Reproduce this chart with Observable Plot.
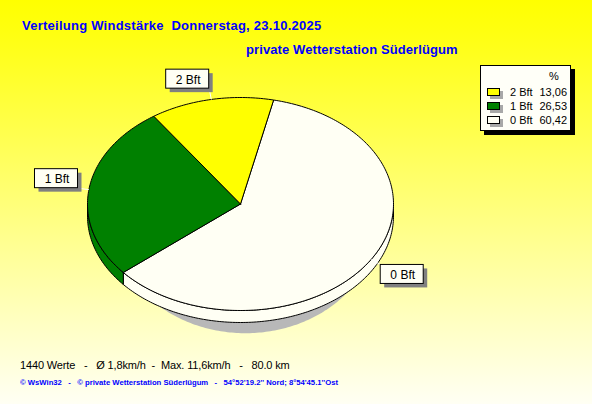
<!DOCTYPE html>
<html>
<head>
<meta charset="utf-8">
<script src="https://cdn.jsdelivr.net/npm/d3@7"></script>
<script src="https://cdn.jsdelivr.net/npm/@observablehq/plot@0.6"></script>
<style>
  html, body { margin: 0; padding: 0; overflow: hidden; }
  #wrap { position: relative; width: 592px; height: 404px;
    background: linear-gradient(to bottom, #ffff00 0%, #ffff10 8%, #fffff4 100%);
    font-family: "Liberation Sans", Arial, sans-serif; }
  #chart { position: absolute; left: 0; top: 0; }
  .abs { position: absolute; white-space: pre; line-height: 1; }
  .title { font-weight: bold; font-size: 13px; color: #0000ff; }
  #legend { position: absolute; left: 480px; top: 65px; width: 89px; height: 64px;
    background: #fffff8; border: 1px solid #000; box-shadow: 4px 4px 0 #000; }
  #legend .abs { font-size: 11px; color: #000; }
  .sw { position: absolute; width: 11px; height: 6px; border: 1px solid #000; box-shadow: 3px 3px 0 #a8a8a8; }
</style>
</head>
<body>
<div id="wrap">
  <div id="chart"></div>
  <div id="title" class="abs title" style="left:22px;top:19px;letter-spacing:0.25px"></div>
  <div id="subtitle" class="abs title" style="left:246px;top:43px;letter-spacing:0.1px"></div>
  <div id="legend"></div>
  <div id="summary" class="abs" style="left:20px;top:360px;font-size:11px;color:#000;letter-spacing:-0.14px"></div>
  <div id="credit" class="abs" style="left:20px;top:379px;font-size:8px;font-weight:bold;color:#0000ff;transform-origin:0 0"></div>
</div>
<script>
// ---- data ----
const categories = ["0 Bft", "1 Bft", "2 Bft"];
const percents = [60.42, 26.53, 13.06];
const titleText = "Verteilung Windstärke  Donnerstag, 23.10.2025";
const subtitleText = "private Wetterstation Süderlügum";
const summaryText = "1440 Werte   -   Ø 1,8km/h  -  Max. 11,6km/h   -   80.0 km";
const creditText = "© WsWin32   -   © private Wetterstation Süderlügum   -   54°52'19.2'' Nord; 8°54'45.1''Ost";
const legendHeader = "%";

// ---- styles ----
const sliceColors = {"0 Bft": "#fffff4", "1 Bft": "#008000", "2 Bft": "#ffff00"};

// ---- geometry ----
const cx = 240, cy = 203.5, rx = 153, ry = 106.5, depth = 12;
const startDeg = 12.5;
const toDX = px => (px - cx) / rx;
const toDY = py => -(py - cy) / ry;
const step = Math.PI / 180;

const arcs = d3.pie().sort(null)
  .startAngle(startDeg * step)
  .endAngle(startDeg * step + 2 * Math.PI)(percents)
  .map((a, i) => ({...a, key: categories[i], color: sliceColors[categories[i]]}));

function arcPoints(a0, a1) {
  const pts = [];
  const n = Math.max(2, Math.ceil((a1 - a0) / step));
  for (let k = 0; k <= n; k++) {
    const t = a0 + (a1 - a0) * k / n;
    pts.push([Math.sin(t), Math.cos(t)]);
  }
  return pts;
}

// top faces
const faces = [];
for (const a of arcs) {
  const pts = [[0, 0], ...arcPoints(a.startAngle, a.endAngle), [0, 0]];
  pts.forEach(([x, y], j) => faces.push({key: a.key, color: a.color, x, y, j}));
}

// sides (front half only)
const dY = depth / ry;
const sides = [];
for (const a of arcs) {
  for (const shift of [0, 2 * Math.PI]) {
    const lo = Math.max(a.startAngle, Math.PI / 2 + shift);
    const hi = Math.min(a.endAngle, 3 * Math.PI / 2 + shift);
    if (hi > lo) {
      const top = arcPoints(lo, hi);
      const bot = top.slice().reverse().map(([x, y]) => [x, y - dY]);
      const pts = [...top, ...bot, top[0]];
      pts.forEach(([x, y]) => sides.push({key: a.key + shift, color: a.color, x, y}));
    }
  }
}

// shadow ellipse
const shadow = [];
{
  const scx = 245, scy = 225, srx = 130, sry = 107.7;
  for (let k = 0; k <= 360; k++) {
    const t = k * step;
    shadow.push({x: toDX(scx + srx * Math.sin(t)), y: toDY(scy - sry * Math.cos(t))});
  }
}

// labels
const boxW = 43, boxH = 19, gap = 11, sh = 4;
const labels = arcs.map(a => {
  const m = (a.startAngle + a.endAngle) / 2;
  const dx = Math.sin(m), dy = -Math.cos(m);
  const ex = cx + rx * dx, ey = cy + ry * dy;
  const kx = ex + gap * dx, ky = ey + gap * dy;
  const left = dx > 0 ? kx : kx - boxW;
  const top = dy > 0 ? ky : ky - boxH;
  return {
    text: a.key,
    ex: toDX(ex), ey: toDY(ey), kx: toDX(kx), ky: toDY(ky),
    x1: toDX(left), x2: toDX(left + boxW), y1: toDY(top), y2: toDY(top + boxH),
    sx1: toDX(left + sh), sx2: toDX(left + boxW + sh), sy1: toDY(top + sh), sy2: toDY(top + boxH + sh),
    tx: toDX(left + boxW / 2 + 0.5), ty: toDY(top + boxH / 2 + 0.5)
  };
});

const font = "Liberation Sans, Arial, sans-serif";
const chart = Plot.plot({
  width: 592,
  height: 404,
  x: {domain: [-1, 1], range: [cx - rx, cx + rx], axis: null},
  y: {domain: [-1, 1], range: [cy + ry, cy - ry], axis: null},
  color: {type: "identity"},
  style: {background: "transparent", overflow: "visible", fontFamily: font},
  marks: [
    Plot.line(shadow, {x: "x", y: "y", fill: "#b8b8b8", stroke: "none"}),
    Plot.line(sides, {x: "x", y: "y", z: "key", fill: "color", stroke: "black", strokeWidth: 1, strokeLinejoin: "round"}),
    Plot.line(faces, {x: "x", y: "y", z: "key", fill: "color", stroke: "black", strokeWidth: 1, strokeLinejoin: "miter"}),
    Plot.link(labels, {x1: "ex", y1: "ey", x2: "kx", y2: "ky", stroke: "white", strokeWidth: 1}),
    Plot.rect(labels, {x1: "sx1", x2: "sx2", y1: "sy1", y2: "sy2", fill: "#808080"}),
    Plot.rect(labels, {x1: "x1", x2: "x2", y1: "y1", y2: "y2", fill: "#fffff4", stroke: "black", strokeWidth: 1}),
    Plot.text(labels, {x: "tx", y: "ty", text: "text", fill: "black", fontSize: 12, fontFamily: font, textAnchor: "middle", lineAnchor: "middle"})
  ]
});
document.getElementById("chart").appendChild(chart);

// ---- texts ----
document.getElementById("title").textContent = titleText;
document.getElementById("subtitle").textContent = subtitleText;
document.getElementById("summary").textContent = summaryText;
const credit = document.getElementById("credit");
credit.textContent = creditText;
const cw = credit.getBoundingClientRect().width;
credit.style.transform = `scaleX(${318 / cw})`;

// ---- legend ----
const legend = document.getElementById("legend");
const hdr = document.createElement("div");
hdr.className = "abs"; hdr.textContent = legendHeader;
hdr.style.left = "68px"; hdr.style.top = "5px";
legend.appendChild(hdr);
const order = categories.map((c, i) => i).reverse();
order.forEach((i, r) => {
  const topY = 21 + r * 14;
  const sw = document.createElement("div");
  sw.className = "sw";
  sw.style.left = "6px"; sw.style.top = (topY + 1) + "px";
  sw.style.background = sliceColors[categories[i]];
  legend.appendChild(sw);
  const lab = document.createElement("div");
  lab.className = "abs"; lab.textContent = categories[i];
  lab.style.left = "29px"; lab.style.top = topY + "px";
  legend.appendChild(lab);
  const val = document.createElement("div");
  val.className = "abs"; val.textContent = percents[i].toFixed(2).replace(".", ",");
  val.style.right = "3px"; val.style.top = topY + "px";
  legend.appendChild(val);
});
</script>
</body>
</html>
